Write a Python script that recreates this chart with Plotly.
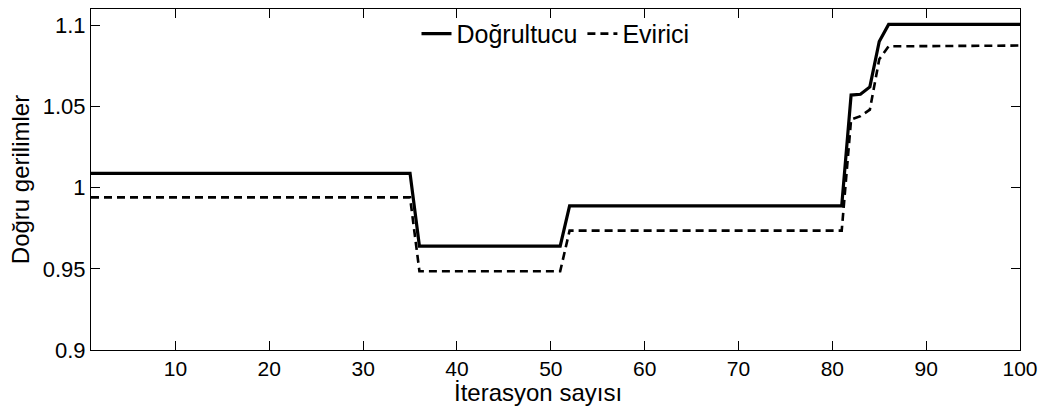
import plotly.graph_objects as go

iter_rect = [1, 35, 36, 51, 52, 81, 82, 83, 84, 85, 86, 100]
dogrultucu = [1.0088, 1.0088, 0.964, 0.964, 0.9888, 0.9888, 1.057, 1.0575, 1.062, 1.090, 1.1005, 1.1005]
iter_inv = [1, 35, 36, 51, 52, 81, 82, 83, 84, 85, 86, 100]
evirici = [0.994, 0.994, 0.9485, 0.9485, 0.9735, 0.9735, 1.042, 1.044, 1.048, 1.079, 1.087, 1.0875]

x_ticks = [10, 20, 30, 40, 50, 60, 70, 80, 90, 100]
y_ticks = [0.9, 0.95, 1.0, 1.05, 1.1]
y_tick_text = ["0.9", "0.95", "1", "1.05", "1.1"]
x_title = "İterasyon sayısı"
y_title = "Doğru gerilimler"

font_family = "Liberation Sans, Arial, sans-serif"

fig = go.Figure()
fig.add_trace(go.Scatter(x=iter_rect, y=dogrultucu, mode="lines", name="Doğrultucu",
                         line=dict(color="black", width=3.2)))
fig.add_trace(go.Scatter(x=iter_inv, y=evirici, mode="lines", name="Evirici",
                         line=dict(color="black", width=2.6, dash="8px,5px")))

axis_common = dict(showgrid=False, zeroline=False, showline=True, linecolor="black",
                   linewidth=1, mirror="ticks", ticks="inside", ticklen=9,
                   tickcolor="black", tickfont=dict(family=font_family, size=22, color="black"))

fig.update_layout(
    width=1046, height=406,
    margin=dict(l=91, r=24, t=8, b=56),
    paper_bgcolor="white", plot_bgcolor="white",
    font=dict(family=font_family, size=22, color="black"),
    showlegend=True,
    legend=dict(orientation="h", x=0.5, y=0.927, xanchor="center", yanchor="middle",
                bgcolor="rgba(0,0,0,0)", font=dict(family=font_family, size=25, color="black"),
                itemwidth=30, tracegroupgap=0),
    xaxis=dict(range=[1, 100], tickvals=x_ticks, ticklabelstandoff=0,
               **{**axis_common, "tickfont": dict(family=font_family, size=21, color="black")}),
    yaxis=dict(range=[0.9, 1.11], tickvals=y_ticks, ticktext=y_tick_text,
               title=dict(text=y_title, standoff=6,
                          font=dict(family=font_family, size=24, color="black")),
               **axis_common),
    annotations=[dict(text=x_title, xref="paper", yref="paper", x=0.481, y=-0.126,
                      xanchor="center", yanchor="middle", showarrow=False,
                      font=dict(family=font_family, size=24, color="black"))],
)

fig.write_html("out.html")
